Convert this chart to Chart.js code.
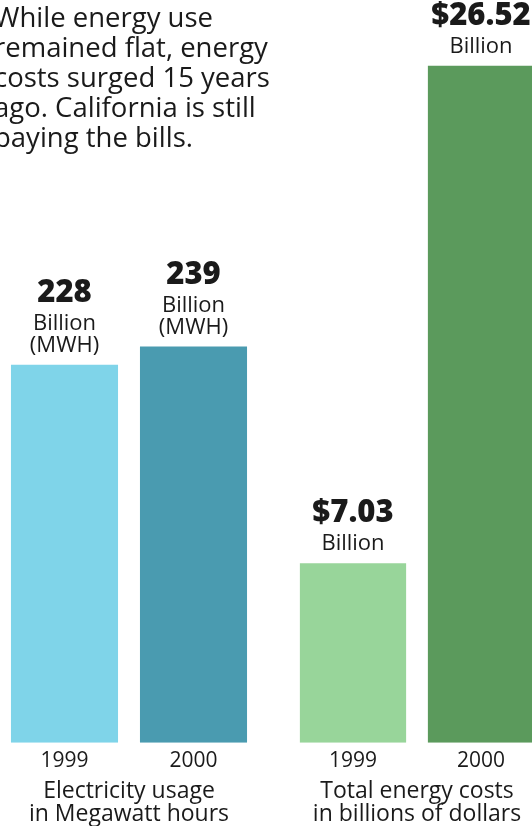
<!DOCTYPE html>
<html>
<head>
<meta charset="utf-8">
<script src="https://cdn.jsdelivr.net/npm/chart.js@4"></script>
<style>
  html, body { margin: 0; padding: 0; background: #fff; width: 532px; height: 826px; overflow: hidden; }
  body { position: relative; font-family: "Open Sans", sans-serif; color: #1a1a1a; }
  #intro { position: absolute; left: -6px; top: 2px; font-size: 27.5px; line-height: 30px; white-space: pre; z-index: 2; }
  .box { position: absolute; top: 0; height: 826px; }
</style>
</head>
<body>
<div id="intro"></div>
<div class="box" style="left:0;width:258px"><canvas id="usageChart"></canvas></div>
<div class="box" style="left:289px;width:256px"><canvas id="costChart"></canvas></div>
<script>
// Data
const introLines = ['While energy use', 'remained flat, energy', 'costs surged 15 years', 'ago. California is still', 'paying the bills.'];
const years = ['1999', '2000'];
const usageValues = [228, 239];
const usageValueText = ['228', '239'];
const usageUnits = ['Billion', '(MWH)'];
const usageTitle = ['Electricity usage', 'in Megawatt hours'];
const costValues = [7.03, 26.52];
const costValueText = ['$7.03', '$26.52'];
const costUnits = ['Billion'];
const costTitle = ['Total energy costs', 'in billions of dollars'];

document.getElementById('intro').textContent = introLines.join('\n');

const ink = '#1a1a1a';
const font = '"Open Sans", sans-serif';

// draws the value + unit lines above each bar
const barLabels = {
  id: 'barLabels',
  afterDatasetsDraw(chart, args, opts) {
    const ctx = chart.ctx;
    const meta = chart.getDatasetMeta(0);
    ctx.save();
    ctx.fillStyle = ink;
    ctx.textAlign = 'center';
    ctx.textBaseline = 'alphabetic';
    meta.data.forEach((bar, i) => {
      let y = bar.y - 13;
      ctx.font = '400 22px ' + font;
      for (let j = opts.units.length - 1; j >= 0; j--) {
        ctx.fillText(opts.units[j], bar.x, y);
        y -= 22;
      }
      y -= 6;
      ctx.font = '800 31px ' + font;
      ctx.fillText(opts.values[i], bar.x, y);
    });
    ctx.restore();
  }
};

function makeChart(id, values, colors, yMax, valueText, units, title) {
  const ctx = document.getElementById(id).getContext('2d');
  return new Chart(ctx, {
    type: 'bar',
    data: {
      labels: years,
      datasets: [{
        data: values,
        backgroundColor: colors,
        borderWidth: 0,
        barPercentage: 1,
        categoryPercentage: 0.83,
      }],
    },
    options: {
      responsive: true,
      maintainAspectRatio: false,
      animation: false,
      layout: { padding: { left: 0, right: 0, top: 0, bottom: 0 } },
      plugins: {
        legend: { display: false },
        tooltip: { enabled: false },
        barLabels: { values: valueText, units: units },
      },
      scales: {
        x: {
          grid: { display: false, drawTicks: false },
          border: { display: false },
          ticks: { color: ink, padding: 6, font: { family: font, size: 21 } },
          title: {
            display: true,
            text: title,
            color: ink,
            padding: { top: 0, bottom: 0 },
            font: { family: font, size: 23, lineHeight: 1.0 },
          },
        },
        y: { display: false, min: 0, max: yMax },
      },
    },
    plugins: [barLabels],
  });
}

makeChart('usageChart', usageValues, ['#7fd4e9', '#4a9bb0'], 448, usageValueText, usageUnits, usageTitle);
makeChart('costChart', costValues, ['#98d59a', '#5b9a5c'], 29.1, costValueText, costUnits, costTitle);
</script>
</body>
</html>
